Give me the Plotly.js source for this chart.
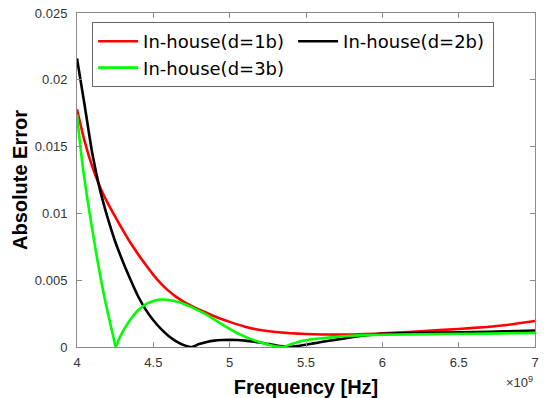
<!DOCTYPE html>
<html>
<head>
<meta charset="utf-8">
<script src="https://cdn.plot.ly/plotly-3.0.1.min.js"></script>
<style>html,body{margin:0;padding:0;background:#fff;}#chart{width:546px;height:398px;}</style>
</head>
<body>
<div id="chart"></div>
<script>
// Frequency in GHz (scaled to Hz when plotting), absolute error values
const seriesNames = ["In-house(d=1b)", "In-house(d=2b)", "In-house(d=3b)"];

const redFreq = [4.00,4.05,4.10,4.15,4.20,4.25,4.30,4.35,4.40,4.45,4.50,4.55,4.60,4.65,4.70,4.75,4.80,4.85,4.90,4.95,5.00,5.10,5.20,5.30,5.40,5.50,5.60,5.70,5.80,5.90,6.00,6.20,6.40,6.60,6.80,7.00];
const redErr  = [0.0178,0.0154,0.0135,0.0120,0.0108,0.00975,0.00875,0.0078,0.00695,0.00615,0.0054,0.00475,0.0042,0.00375,0.00338,0.00308,0.0028,0.00255,0.0023,0.00208,0.00188,0.00152,0.00127,0.00112,0.00103,0.00097,0.00094,0.00093,0.00094,0.00097,0.00102,0.00114,0.00128,0.00143,0.00163,0.00195];

const blackFreq = [4.00,4.05,4.10,4.15,4.20,4.25,4.30,4.35,4.40,4.45,4.50,4.55,4.60,4.65,4.70,4.75,4.80,4.85,4.90,4.95,5.00,5.05,5.10,5.15,5.20,5.25,5.30,5.35,5.40,5.45,5.50,5.55,5.60,5.70,5.80,5.90,6.00,6.20,6.40,6.60,6.80,7.00];
const blackErr  = [0.0216,0.0181,0.0145,0.0118,0.0097,0.0079,0.0064,0.00505,0.0038,0.0028,0.0020,0.00135,0.00082,0.00042,0.00014,0.0,0.00022,0.00038,0.00048,0.00052,0.00053,0.00052,0.00048,0.00042,0.00033,0.00023,0.00013,0.00005,0.0,0.00008,0.00017,0.00027,0.00037,0.00055,0.00073,0.00088,0.00098,0.00104,0.00108,0.00112,0.00117,0.00123];

const greenFreq = [4.00,4.02,4.04,4.06,4.08,4.10,4.12,4.14,4.16,4.18,4.20,4.22,4.24,4.253,4.275,4.30,4.35,4.40,4.45,4.50,4.55,4.60,4.65,4.70,4.75,4.80,4.85,4.90,4.95,5.00,5.05,5.10,5.15,5.20,5.25,5.30,5.35,5.40,5.45,5.50,5.60,5.70,5.80,5.90,6.00,6.40,6.80,7.00];
const greenErr  = [0.0174,0.0152,0.0133,0.0117,0.0102,0.0088,0.0074,0.0061,0.00485,0.0037,0.00265,0.00165,0.00065,0.0,0.0006,0.00115,0.00205,0.00275,0.0032,0.00345,0.00355,0.00352,0.0034,0.00322,0.00298,0.0027,0.0024,0.00205,0.0017,0.00135,0.00103,0.00078,0.00055,0.00035,0.00018,0.00006,0.0,0.0002,0.00038,0.0005,0.00065,0.00076,0.00084,0.00089,0.00092,0.00097,0.00102,0.00105];

const xTickVals = [4,4.5,5,5.5,6,6.5,7];
const xTickText = ["4","4.5","5","5.5","6","6.5","7"];
const yTickVals = [0,0.005,0.01,0.015,0.02,0.025];
const yTickText = ["0","0.005","0.01","0.015","0.02","0.025"];

const colors = ["#ff0000","#000000","#00ff00"];
const toHz = a => a.map(v => v*1e9);

const traces = [
  {x: toHz(redFreq), y: redErr, name: seriesNames[0]},
  {x: toHz(blackFreq), y: blackErr, name: seriesNames[1]},
  {x: toHz(greenFreq), y: greenErr, name: seriesNames[2]}
].map((t,i) => Object.assign(t, {type:"scatter", mode:"lines", line:{color:colors[i], width:2.6, shape:"spline", smoothing:0.6}}));

const axisCommon = {
  showline:true, linecolor:"#8a8a8a", linewidth:1, mirror:"ticks",
  ticks:"inside", ticklen:5, tickcolor:"#8a8a8a", tickwidth:1,
  showgrid:false, zeroline:false,
  tickfont:{family:"Liberation Sans, Arial, sans-serif", size:13, color:"#333"}
};

const layout = {
  width:546, height:398,
  margin:{l:77, r:11, t:13, b:51},
  paper_bgcolor:"#fff", plot_bgcolor:"#fff",
  showlegend:true,
  legend:{
    x:0.033, y:0.973, xanchor:"left", yanchor:"top",
    orientation:"h", entrywidth:145, itemwidth:40,
    bordercolor:"#666", borderwidth:1, bgcolor:"#fff",
    font:{family:"DejaVu Sans, Verdana, sans-serif", size:18, color:"#000"},
    tracegroupgap:0
  },
  xaxis: Object.assign({}, axisCommon, {
    range:[4e9,7e9], tickvals: toHz(xTickVals), ticktext: xTickText,
    ticklabelstandoff:3,
    title:{text:"<b>Frequency [Hz]</b>", font:{family:"Liberation Sans, Arial, sans-serif", size:20, color:"#000"}, standoff:12}
  }),
  yaxis: Object.assign({}, axisCommon, {
    range:[0,0.025], tickvals: yTickVals, ticktext: yTickText,
    ticklabelstandoff:6,
    title:{text:"<b>Absolute Error</b>", font:{family:"Liberation Sans, Arial, sans-serif", size:20, color:"#000"}, standoff:1}
  }),
  annotations:[{
    xref:"paper", yref:"paper", x:1, y:-0.075, xanchor:"right", yanchor:"top",
    text:"×10<sup>9</sup>", showarrow:false,
    font:{family:"Liberation Sans, Arial, sans-serif", size:13, color:"#333"}
  }]
};

Plotly.newPlot("chart", traces, layout, {displayModeBar:false, staticPlot:true});
</script>
</body>
</html>
